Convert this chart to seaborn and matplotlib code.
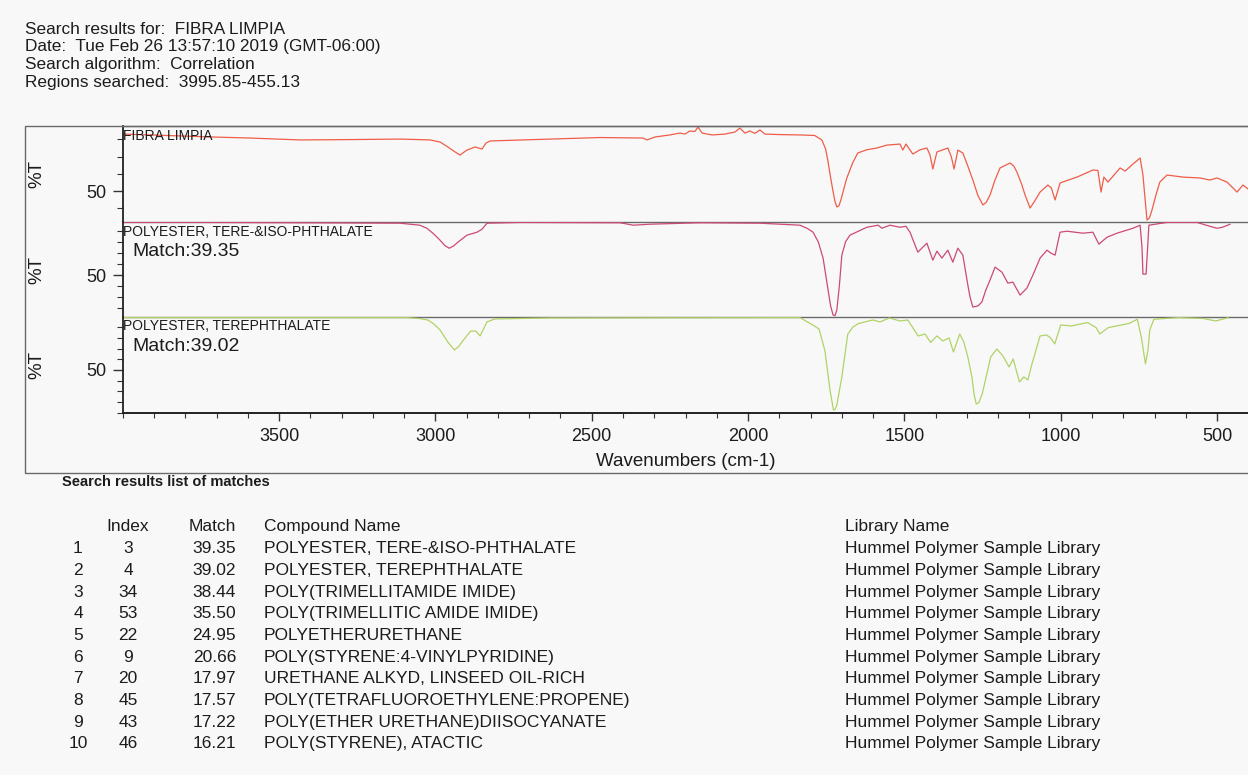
import matplotlib
matplotlib.use("Agg")
import matplotlib.pyplot as plt
from matplotlib.patches import Rectangle
from matplotlib.ticker import MultipleLocator, FixedLocator
import pandas as pd
import seaborn as sns

sns.set_style("ticks")
plt.rcParams["font.family"] = ["Liberation Sans", "DejaVu Sans"]

# ---------------------------------------------------------------- spectra
# sample: FIBRA LIMPIA  (wavenumber cm-1, %T)
fibra_wn = [4000, 3913, 3711, 3593, 3433, 3273, 3113, 3017, 2985, 2960, 2937, 2921,
            2910, 2899, 2873, 2851, 2838, 2825, 2633, 2473, 2336, 2323, 2298, 2250,
            2218, 2202, 2186, 2170, 2160, 2147, 2115, 2074, 2042, 2026, 2010, 1994,
            1978, 1962, 1946, 1898, 1834, 1787, 1764, 1752, 1745, 1737, 1729, 1722,
            1716, 1709, 1703, 1694, 1684, 1665, 1649, 1620, 1588, 1556, 1514, 1505,
            1495, 1473, 1450, 1428, 1418, 1409, 1396, 1361, 1350, 1341, 1329, 1313,
            1297, 1281, 1265, 1249, 1238, 1226, 1210, 1194, 1162, 1150, 1140, 1125,
            1114, 1098, 1082, 1066, 1041, 1030, 1018, 1002, 948, 897, 881, 871,
            862, 849, 810, 794, 769, 746, 737, 730, 724, 716, 708, 695,
            683, 660, 609, 555, 523, 500, 468, 436, 417, 401]
fibra_t = [83.1, 82.6, 81.4, 80.8, 79.7, 79.9, 80.2, 79.7, 78.5, 75.6, 72.7, 70.9,
           72.4, 73.8, 75.6, 74.4, 77.9, 79.1, 80.2, 81.1, 80.8, 79.7, 81.4, 82.6,
           83.7, 83.1, 84.9, 84.6, 87.2, 83.7, 82.6, 83.1, 84.3, 86.6, 83.7, 84.9,
           83.5, 85.5, 83.1, 82.8, 82.6, 82.3, 79.7, 74.5, 68.0, 59.0, 50.6, 44.0,
           40.7, 41.5, 44.8, 51.0, 57.6, 66.5, 72.1, 74.0, 75.0, 76.7, 77.3, 73.8,
           77.3, 71.5, 74.0, 75.0, 71.0, 62.8, 72.7, 75.0, 70.0, 62.8, 73.8, 72.1,
           64.5, 56.4, 47.5, 41.9, 43.5, 47.7, 56.5, 63.4, 66.3, 64.5, 61.0, 54.0,
           47.7, 40.1, 44.5, 49.4, 53.5, 51.8, 44.8, 54.7, 58.1, 62.2, 62.0, 49.4,
           58.1, 55.2, 63.4, 61.6, 65.7, 69.2, 59.3, 45.0, 33.1, 34.5, 39.0, 48.0,
           55.2, 59.3, 58.1, 57.6, 56.4, 57.6, 55.2, 49.4, 53.5, 51.2]

# library hit 1: POLYESTER, TERE-&ISO-PHTHALATE
tere_iso_wn = [4000, 3753, 3433, 3113, 3050, 3027, 3005, 2985, 2970, 2956, 2942, 2928,
               2899, 2867, 2851, 2835, 2729, 2409, 2367, 2313, 2154, 1962, 1834, 1810,
               1792, 1775, 1760, 1744, 1736, 1728, 1722, 1716, 1708, 1700, 1688, 1674,
               1620, 1584, 1572, 1546, 1514, 1495, 1482, 1457, 1428, 1409, 1396, 1380,
               1361, 1345, 1329, 1313, 1297, 1290, 1281, 1265, 1252, 1240, 1226, 1210,
               1188, 1169, 1153, 1130, 1108, 1089, 1066, 1044, 1031, 1018, 1002, 980,
               929, 897, 878, 852, 820, 769, 746, 740, 737, 727, 722, 718,
               660, 564, 523, 500, 484, 458]
tere_iso_t = [98.0, 98.0, 97.7, 97.3, 95.5, 92.7, 87.5, 81.8, 77.0, 74.5, 76.5, 80.0,
              86.4, 89.1, 91.8, 97.3, 98.0, 97.7, 95.5, 96.4, 97.7, 97.3, 95.5, 92.5,
              89.1, 80.0, 65.5, 36.4, 22.0, 13.6, 13.0, 18.2, 40.0, 68.2, 80.5, 86.4,
              93.6, 95.5, 92.7, 95.5, 93.6, 94.5, 89.1, 70.9, 79.1, 63.6, 71.8, 65.5,
              72.7, 61.8, 74.5, 68.2, 40.9, 30.0, 20.9, 21.8, 25.5, 36.0, 45.5, 57.3,
              52.7, 42.7, 43.6, 31.8, 38.2, 50.0, 65.5, 72.7, 70.0, 68.2, 89.1, 90.0,
              88.2, 89.1, 78.2, 84.5, 88.2, 92.7, 95.5, 75.0, 50.9, 50.9, 75.0, 95.5,
              98.0, 98.0, 94.5, 92.7, 93.5, 96.4]

# library hit 2: POLYESTER, TEREPHTHALATE
tere_wn = [4000, 3433, 3089, 3050, 3024, 3005, 2985, 2960, 2939, 2925, 2915, 2887,
           2871, 2857, 2835, 2809, 2633, 1834, 1812, 1790, 1773, 1754, 1738, 1730,
           1727, 1722, 1716, 1700, 1681, 1665, 1647, 1601, 1578, 1548, 1514, 1489,
           1456, 1434, 1416, 1396, 1377, 1357, 1343, 1323, 1310, 1297, 1284, 1277,
           1270, 1262, 1251, 1224, 1204, 1185, 1165, 1152, 1132, 1118, 1105, 1092,
           1066, 1046, 1033, 1019, 1000, 967, 914, 887, 875, 848, 782, 755,
           742, 729, 721, 715, 702, 623, 544, 504, 464]
tere_t = [98.9, 98.9, 98.9, 98.0, 96.7, 93.0, 87.4, 76.0, 68.7, 72.0, 76.2, 86.4,
          86.4, 81.8, 94.9, 97.7, 98.6, 98.9, 95.2, 91.5, 88.3, 67.8, 31.3, 18.0,
          12.6, 13.0, 17.3, 43.5, 83.6, 90.0, 93.4, 96.7, 94.9, 98.6, 95.8, 96.7,
          81.8, 83.6, 75.7, 81.8, 77.1, 79.9, 66.8, 83.6, 76.2, 62.0, 43.5, 27.0,
          18.2, 19.5, 27.6, 62.1, 69.6, 63.1, 52.8, 60.3, 38.8, 43.5, 40.7, 55.6,
          81.8, 82.7, 80.3, 74.3, 92.1, 91.1, 94.3, 89.6, 83.6, 89.6, 93.4, 97.4,
          80.4, 55.6, 68.7, 87.4, 97.4, 98.9, 98.1, 95.8, 98.9]

panel_names = ["FIBRA LIMPIA", "POLYESTER, TERE-&ISO-PHTHALATE", "POLYESTER, TEREPHTHALATE"]
panel_matches = [None, "39.35", "39.02"]
x_ticks = [3500, 3000, 2500, 2000, 1500, 1000, 500]

# ---------------------------------------------------------------- report text
header_lines = ["Search results for:  FIBRA LIMPIA",
                "Date:  Tue Feb 26 13:57:10 2019 (GMT-06:00)",
                "Search algorithm:  Correlation",
                "Regions searched:  3995.85-455.13"]

ranks = [1, 2, 3, 4, 5, 6, 7, 8, 9, 10]
lib_index = [3, 4, 34, 53, 22, 9, 20, 45, 43, 46]
match_values = ["39.35", "39.02", "38.44", "35.50", "24.95",
                "20.66", "17.97", "17.57", "17.22", "16.21"]
compound_names = ["POLYESTER, TERE-&ISO-PHTHALATE",
                  "POLYESTER, TEREPHTHALATE",
                  "POLY(TRIMELLITAMIDE IMIDE)",
                  "POLY(TRIMELLITIC AMIDE IMIDE)",
                  "POLYETHERURETHANE",
                  "POLY(STYRENE:4-VINYLPYRIDINE)",
                  "URETHANE ALKYD, LINSEED OIL-RICH",
                  "POLY(TETRAFLUOROETHYLENE:PROPENE)",
                  "POLY(ETHER URETHANE)DIISOCYANATE",
                  "POLY(STYRENE), ATACTIC"]
library_names = ["Hummel Polymer Sample Library"] * 10

# ---------------------------------------------------------------- layout
W, H = 1248, 775
PAPER = "#f8f8f9"
INK = "#1c1c1c"
fig = plt.figure(figsize=(W / 100, H / 100), dpi=100, facecolor=PAPER)


def fx(px):
    return px / W


def fy(py):
    return 1 - py / H


# outer frame around the spectra block
fig.patches.append(Rectangle((fx(25), fy(473)), fx(1300) - fx(25), (473 - 126) / H,
                             transform=fig.transFigure, fill=False,
                             ec="#6a6a6a", lw=1.0, zorder=0))

spectra = [
    pd.DataFrame({"wavenumber": fibra_wn, "T": fibra_t}),
    pd.DataFrame({"wavenumber": tere_iso_wn, "T": tere_iso_t}),
    pd.DataFrame({"wavenumber": tere_wn, "T": tere_t}),
]
colors = ["#ef5d48", "#cc4a74", "#b0d366"]
rows_px = [(126, 222), (222, 317), (317, 413)]
ylims = [(32.0, 87.8), (11.8, 98.4), (9.8, 99.5)]
left_px = 122.7

axes = []
for i, (df, col, (top, bot), yl) in enumerate(zip(spectra, colors, rows_px, ylims)):
    ax = fig.add_axes([fx(left_px), fy(bot), 1 - fx(left_px), (bot - top) / H])
    ax.set_facecolor("none")
    sns.lineplot(data=df, x="wavenumber", y="T", ax=ax, color=col, linewidth=0.9,
                 estimator=None, errorbar=None, legend=False)
    ax.set_xlim(4000, 401)
    ax.set_ylim(*yl)
    ax.set_xlabel("")
    ax.set_ylabel("%T", fontsize=13.5, color=INK)
    ax.yaxis.label.set_va("center")
    ax.yaxis.set_label_coords(fx(37 - left_px) / (1 - fx(left_px)), 0.5)
    ax.yaxis.set_major_locator(FixedLocator([50]))
    ax.yaxis.set_minor_locator(MultipleLocator(10))
    ax.tick_params(axis="y", which="major", direction="out", length=7.5, width=1.0,
                   colors="#333333", labelsize=13, labelcolor=INK, pad=4)
    ax.tick_params(axis="y", which="minor", direction="out", length=4, width=0.8,
                   colors="#333333")
    ax.spines["right"].set_visible(False)
    ax.spines["left"].set_color("#222222")
    ax.spines["left"].set_linewidth(1.3)
    ax.spines["top"].set_visible(i == 0)
    ax.spines["top"].set_color("#6a6a6a")
    ax.spines["top"].set_linewidth(1.0)
    if i < 2:
        ax.spines["bottom"].set_color("#6a6a6a")
        ax.spines["bottom"].set_linewidth(1.0)
        ax.tick_params(axis="x", which="both", bottom=False, labelbottom=False)
    axes.append(ax)

# shared wavenumber axis on the bottom panel
axb = axes[-1]
axb.spines["bottom"].set_color("#222222")
axb.spines["bottom"].set_linewidth(1.4)
axb.set_xticks(x_ticks)
axb.set_xticklabels([str(t) for t in x_ticks])
axb.xaxis.set_minor_locator(MultipleLocator(100))
axb.tick_params(axis="x", which="major", direction="out", length=6, width=1.0,
                colors="#333333", labelsize=13, labelcolor=INK, pad=5)
axb.tick_params(axis="x", which="minor", direction="out", length=3.5, width=0.8,
                colors="#333333")
axb.set_xlabel("Wavenumbers (cm-1)", fontsize=13.5, color=INK)
axb.xaxis.set_label_coords(0.5, -(461 - 413) / 96)
axb.xaxis.label.set_va("center")

# spectrum titles and match scores
for (top, bot), name, match in zip(rows_px, panel_names, panel_matches):
    fig.text(fx(123), fy(top + 9.5), name, fontsize=10, color=INK, va="center", ha="left")
    if match is not None:
        fig.text(fx(132), fy(top + 29.5), f"Match:{match}", fontsize=14, color=INK,
                 va="center", ha="left")

# report header
for k, line in enumerate(header_lines):
    fig.text(fx(25), fy(34 + 17.5 * k), line, fontsize=12.4, color=INK, va="baseline")

# hit list
fig.text(fx(62), fy(486), "Search results list of matches", fontsize=10.5,
         fontweight="bold", color=INK, va="baseline")
hdr_y = 531
fig.text(fx(128), fy(hdr_y), "Index", fontsize=12.5, color=INK, ha="center", va="baseline")
fig.text(fx(236), fy(hdr_y), "Match", fontsize=12.5, color=INK, ha="right", va="baseline")
fig.text(fx(264), fy(hdr_y), "Compound Name", fontsize=12.5, color=INK, va="baseline")
fig.text(fx(845), fy(hdr_y), "Library Name", fontsize=12.5, color=INK, va="baseline")
for k in range(len(ranks)):
    yb = fy(553.3 + 21.67 * k)
    fig.text(fx(78), yb, str(ranks[k]), fontsize=12.5, color=INK, ha="center", va="baseline")
    fig.text(fx(128), yb, str(lib_index[k]), fontsize=12.5, color=INK, ha="center", va="baseline")
    fig.text(fx(236), yb, match_values[k], fontsize=12.5, color=INK, ha="right", va="baseline")
    fig.text(fx(264), yb, compound_names[k], fontsize=12.5, color=INK, va="baseline")
    fig.text(fx(845), yb, library_names[k], fontsize=12.5, color=INK, va="baseline")

fig.savefig("out.png", dpi=100, facecolor=PAPER)
